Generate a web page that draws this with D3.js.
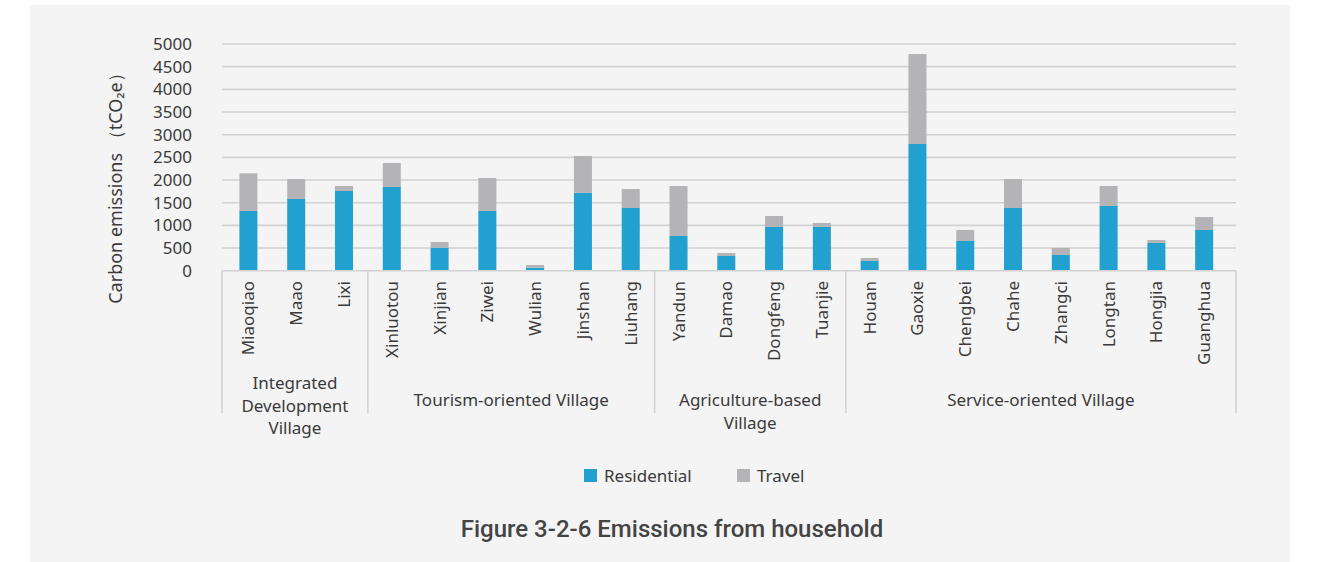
<!DOCTYPE html>
<html>
<head>
<meta charset="utf-8">
<script src="https://cdn.jsdelivr.net/npm/d3@7"></script>
<style>
  html, body { margin: 0; padding: 0; background: #ffffff; }
  svg { display: block; }
</style>
</head>
<body>
<svg id="chart" width="1323" height="562"></svg>
<script>
// Household carbon emissions by village (tCO2e)
const villages = ["Miaoqiao", "Maao", "Lixi",
  "Xinluotou", "Xinjian", "Ziwei", "Wulian", "Jinshan", "Liuhang",
  "Yandun", "Damao", "Dongfeng", "Tuanjie",
  "Houan", "Gaoxie", "Chengbei", "Chahe", "Zhangci", "Longtan", "Hongjia", "Guanghua"];
const groupNames = [["Integrated", "Development", "Village"], ["Tourism-oriented Village"],
  ["Agriculture-based", "Village"], ["Service-oriented Village"]];
const groupSizes = [3, 6, 4, 8];
const residential = [1317, 1581, 1758, 1846, 507, 1317, 66, 1720, 1383,
  765, 324, 964, 964, 214, 2794, 655, 1383, 346, 1427, 611, 898];
const travel = [831, 441, 110, 529, 126, 728, 60, 810, 419,
  1103, 66, 242, 88, 66, 1985, 243, 639, 155, 441, 66, 286];
const yTicks = [0, 500, 1000, 1500, 2000, 2500, 3000, 3500, 4000, 4500, 5000];
const seriesNames = ["Residential", "Travel"];
const seriesColors = ["#22a0d0", "#b4b4b6"];

const svg = d3.select("#chart");
const font = "'Noto Sans', sans-serif";
const fs = 17;
const textColor = "#3a3a3a";

// panel background
svg.append("rect").attr("x", 30).attr("y", 5).attr("width", 1260).attr("height", 557)
  .attr("fill", "#f4f4f4");

const axisLeft = 222, axisRight = 1236;
const x = d3.scaleBand().domain(villages).range([224.6, 1228]).paddingInner(0.623).paddingOuter(0.31);
const y = d3.scaleLinear().domain([0, 5000]).range([270.7, 44]);

// gridlines
svg.append("g").selectAll("line").data(yTicks.slice(1)).join("line")
  .attr("x1", axisLeft).attr("x2", axisRight)
  .attr("y1", d => y(d)).attr("y2", d => y(d))
  .attr("stroke", "#d2d2d2").attr("stroke-width", 1.6);

// y axis labels
const yAxis = svg.append("g").attr("transform", `translate(${axisLeft},0)`)
  .call(d3.axisLeft(y).tickValues(yTicks).tickFormat(d3.format("d")).tickSize(0).tickPadding(30));
yAxis.select(".domain").remove();
yAxis.selectAll("text").attr("font-family", font).attr("font-size", fs).attr("fill", textColor);

// stacked bars
const rows = villages.map((v, i) => ({ village: v, Residential: residential[i], Travel: travel[i] }));
const stacked = d3.stack().keys(seriesNames)(rows);
svg.append("g").selectAll("g").data(stacked).join("g")
  .attr("fill", (d, i) => seriesColors[i])
  .selectAll("rect").data(d => d).join("rect")
  .attr("x", d => x(d.data.village))
  .attr("width", x.bandwidth())
  .attr("y", d => y(d[1]))
  .attr("height", d => y(d[0]) - y(d[1]));

// category axis frame
const axisTop = 270.7, axisBottom = 413;
const frame = svg.append("g").attr("stroke", "#d2d2d2").attr("stroke-width", 1.6);
frame.append("line").attr("x1", axisLeft).attr("x2", axisRight).attr("y1", axisTop).attr("y2", axisTop);
let cum = 0;
const bounds = [axisLeft];
const groupCenters = [];
groupSizes.forEach((n, gi) => {
  const end = cum + n - 1;
  const c1 = x(villages[end]) + x.bandwidth() / 2;
  cum += n;
  const right = gi === groupSizes.length - 1 ? axisRight : (c1 + x(villages[cum]) + x.bandwidth() / 2) / 2;
  groupCenters.push((bounds[bounds.length - 1] + right) / 2);
  bounds.push(right);
});
frame.selectAll("line.sep").data(bounds).join("line").attr("class", "sep")
  .attr("x1", d => d).attr("x2", d => d).attr("y1", axisTop).attr("y2", axisBottom);

// village labels (rotated)
svg.append("g").selectAll("text").data(villages).join("text")
  .attr("transform", d => `translate(${x(d) + x.bandwidth() / 2 + 6},281) rotate(-90)`)
  .attr("text-anchor", "end")
  .attr("font-family", font).attr("font-size", fs).attr("fill", textColor)
  .text(d => d);

// group labels
const groupG = svg.append("g");
groupNames.forEach((lines, gi) => {
  const t = groupG.append("text")
    .attr("x", groupCenters[gi]).attr("text-anchor", "middle")
    .attr("font-family", font).attr("font-size", fs).attr("fill", textColor);
  const y0 = lines.length === 3 ? 389 : 406;
  lines.forEach((ln, li) => {
    t.append("tspan").attr("x", groupCenters[gi]).attr("y", y0 + li * 22.5).text(ln);
  });
});

// y axis title
svg.append("text")
  .attr("transform", "translate(122,184) rotate(-90)")
  .attr("text-anchor", "middle")
  .attr("font-family", font).attr("font-size", 18).attr("fill", textColor)
  .text("Carbon emissions （tCO₂e）");

// legend
const legendItems = [{ name: "Residential", x: 584 }, { name: "Travel", x: 737 }];
const lg = svg.append("g");
legendItems.forEach((it, i) => {
  lg.append("rect").attr("x", it.x).attr("y", 469).attr("width", 13).attr("height", 13)
    .attr("fill", seriesColors[i]);
  lg.append("text").attr("x", it.x + 20).attr("y", 482)
    .attr("font-family", font).attr("font-size", fs).attr("fill", textColor).text(it.name);
});

// caption
svg.append("text").attr("x", 672).attr("y", 537).attr("text-anchor", "middle")
  .attr("font-family", "Roboto, sans-serif").attr("font-weight", 500).attr("font-size", 24)
  .attr("fill", "#444").text("Figure 3-2-6 Emissions from household");
</script>
</body>
</html>
